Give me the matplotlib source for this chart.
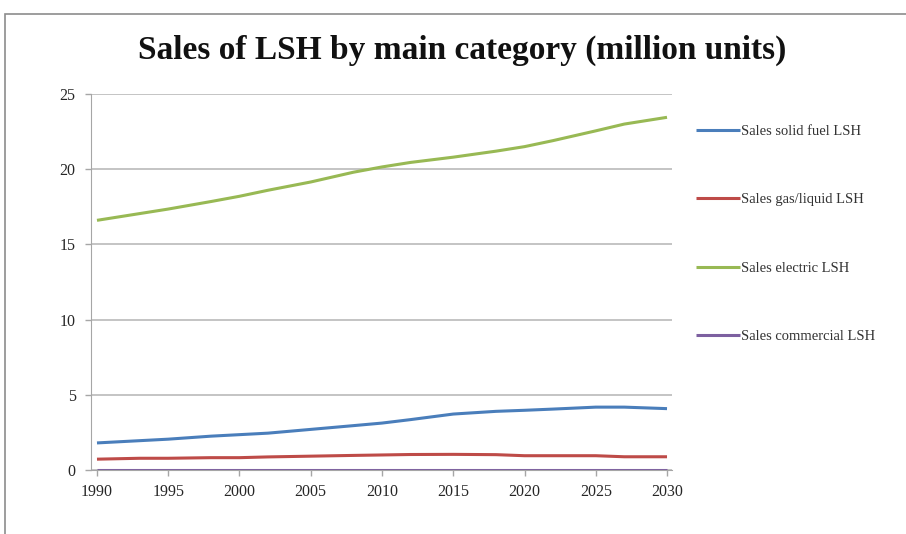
import matplotlib
matplotlib.use("Agg")
import matplotlib.pyplot as plt
from matplotlib.patches import Rectangle

years = [1990, 1993, 1995, 1998, 2000, 2002, 2005, 2008, 2010, 2012, 2015, 2018, 2020, 2022, 2025, 2027, 2030]
solid_fuel = [1.80, 1.95, 2.05, 2.25, 2.35, 2.45, 2.70, 2.95, 3.12, 3.35, 3.72, 3.90, 3.97, 4.05, 4.18, 4.18, 4.08]
gas_liquid = [0.72, 0.78, 0.78, 0.82, 0.82, 0.87, 0.92, 0.97, 1.00, 1.03, 1.04, 1.02, 0.95, 0.95, 0.95, 0.88, 0.88]
electric = [16.60, 17.05, 17.35, 17.85, 18.20, 18.60, 19.15, 19.80, 20.15, 20.45, 20.80, 21.20, 21.50, 21.90, 22.55, 23.00, 23.45]
commercial = [0.02] * len(years)

series_names = ["Sales solid fuel LSH", "Sales gas/liquid LSH", "Sales electric LSH", "Sales commercial LSH"]
colors = ["#4A7EBB", "#BE4B48", "#98B954", "#7D60A0"]
xticks = [1990, 1995, 2000, 2005, 2010, 2015, 2020, 2025, 2030]
yticks = [0, 5, 10, 15, 20, 25]
title = "Sales of LSH by main category (million units)"

plt.rcParams['font.family'] = ['Liberation Serif', 'DejaVu Serif']

fig = plt.figure(figsize=(9.06, 5.34), dpi=100)
W, H = 906, 534
# chart border
fig.patches.append(Rectangle((5 / W, -0.1), 1.2, (534 - 14) / H + 0.1, transform=fig.transFigure,
                             fill=False, edgecolor="#8C8C8C", linewidth=1.2))

ax = fig.add_axes([91 / W, (534 - 470) / H, (672 - 91) / W, (470 - 94) / H])
for ys, c, n in zip([solid_fuel, gas_liquid, electric, commercial], colors, series_names):
    ax.plot(years, ys, color=c, linewidth=2.2, label=n, solid_capstyle="butt")

ax.set_xlim(1989.58, 2030.35)
ax.set_ylim(0, 25)
ax.set_xticks(xticks)
ax.set_yticks(yticks)
ax.set_xticklabels([str(x) for x in xticks], fontsize=11.5, color="#262626")
ax.set_yticklabels([str(y) for y in yticks], fontsize=11.5, color="#262626")
ax.yaxis.grid(True, color="#BFBFBF", linewidth=1.3)
ax.set_axisbelow(True)
for s in ["top", "right"]:
    ax.spines[s].set_visible(False)
ax.spines["left"].set_color("#A6A6A6")
ax.spines["bottom"].set_color("#A6A6A6")
ax.tick_params(axis="both", color="#A6A6A6", length=4, width=1, direction="out")
ax.tick_params(axis="x", pad=6)
ax.tick_params(axis="y", pad=7)

fig.text(462 / W, 1 - 50 / H, title, ha="center", va="center", fontsize=24, fontweight="bold",
         color="#111111")

leg = ax.legend(loc="upper left", bbox_to_anchor=(690 / W, 1 - 119 / H), bbox_transform=fig.transFigure,
                frameon=False, fontsize=10.5, handlelength=3.0, handletextpad=0.1, labelspacing=3.78,
                borderaxespad=0)
for t in leg.get_texts():
    t.set_color("#333333")

fig.savefig("out.png", dpi=100)
